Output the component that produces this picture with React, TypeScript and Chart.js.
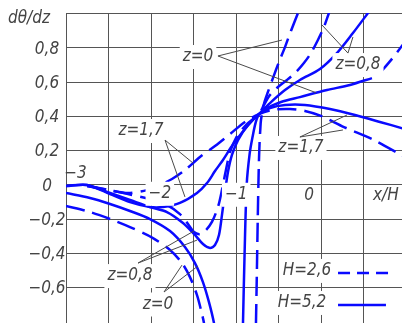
import React, { useEffect, useRef } from "react";
import { Chart, registerables } from "chart.js";

Chart.register(...registerables);

// ---- axes ----
const X_MIN = -3;
const X_MAX = 0.96;
const Y_MIN = -0.81;
const Y_MAX = 1.0;
const xGrid = [-3, -2.5, -2, -1.5, -1, -0.5, 0, 0.5];
const yGrid = [1.0, 0.8, 0.6, 0.4, 0.2, 0, -0.2, -0.4, -0.6];
const yTickValues = [0.8, 0.6, 0.4, 0.2, 0, -0.2, -0.4, -0.6];
const yTickLabels = ["0,8", "0,6", "0,4", "0,2", "0", "−0,2", "−0,4", "−0,6"];
const xTickValues = [-3, -2, -1, 0];
const xTickLabels = ["−3", "−2", "−1", "0"];

// ---- series: H=2,6 (dashed) ----
const h26z0Left: [number, number][] = [
  [-3.0, -0.127], [-2.717, -0.162], [-2.481, -0.203], [-2.246, -0.25], [-1.975, -0.314],
  [-1.774, -0.384], [-1.633, -0.46], [-1.539, -0.542], [-1.456, -0.647], [-1.409, -0.734],
  [-1.374, -0.81], [-1.35, -0.9],
];
const h26z0Right: [number, number][] = [
  [-0.761, -0.81], [-0.75, -0.5], [-0.74, -0.2], [-0.728, 0.1], [-0.718, 0.25], [-0.71, 0.32],
  [-0.702, 0.375], [-0.667, 0.469], [-0.62, 0.539], [-0.561, 0.62], [-0.49, 0.714],
  [-0.419, 0.801], [-0.349, 0.895], [-0.266, 1.0], [-0.23, 1.05],
];
const h26Extra: [number, number][] = [[0.7, 0.65], [0.83, 0.725], [0.97, 0.815]];
const h26z08: [number, number][] = [
  [-2.75, -0.01], [-2.48, -0.035], [-2.269, -0.057], [-2.01, -0.086], [-1.833, -0.115],
  [-1.657, -0.174], [-1.562, -0.232], [-1.492, -0.279], [-1.421, -0.291], [-1.35, -0.267],
  [-1.28, -0.22], [-1.209, -0.133], [-1.162, -0.034], [-1.115, 0.083], [-1.067, 0.188],
  [-0.997, 0.27], [-0.879, 0.346], [-0.726, 0.41], [-0.667, 0.463], [-0.596, 0.521],
  [-0.502, 0.568], [-0.396, 0.609], [-0.29, 0.655], [-0.196, 0.708], [-0.113, 0.766],
  [-0.031, 0.842], [0.04, 0.918], [0.099, 1.0], [0.135, 1.047],
];
const h26z17: [number, number][] = [
  [-2.75, -0.01], [-2.48, -0.035], [-2.269, -0.051], [-2.045, -0.034], [-1.892, -0.004],
  [-1.751, 0.031], [-1.598, 0.083], [-1.421, 0.159], [-1.244, 0.223], [-1.067, 0.293],
  [-0.891, 0.364], [-0.726, 0.41], [-0.572, 0.434], [-0.36, 0.439], [-0.184, 0.428],
  [0.005, 0.399], [0.276, 0.334], [0.629, 0.258], [0.97, 0.165],
];

// ---- series: H=5,2 (solid) ----
const h52z0Left: [number, number][] = [
  [-3.0, -0.051], [-2.717, -0.08], [-2.481, -0.115], [-2.246, -0.156], [-2.01, -0.203],
  [-1.774, -0.273], [-1.598, -0.366], [-1.48, -0.46], [-1.386, -0.571], [-1.315, -0.688],
  [-1.256, -0.81], [-1.23, -0.9],
];
const h52z0Right: [number, number][] = [
  [-0.914, -0.81], [-0.895, -0.4], [-0.87, 0.0], [-0.835, 0.18], [-0.8, 0.28], [-0.765, 0.36],
  [-0.73, 0.405], [-0.68, 0.43], [-0.62, 0.448], [-0.466, 0.48], [-0.243, 0.509],
  [0.076, 0.55], [0.347, 0.58], [0.606, 0.62],
];
const h52z08: [number, number][] = [
  [-3.0, -0.01], [-2.753, -0.004], [-2.481, -0.051], [-2.246, -0.092], [-2.01, -0.133],
  [-1.81, -0.162], [-1.621, -0.226], [-1.48, -0.296], [-1.386, -0.349], [-1.303, -0.372],
  [-1.244, -0.355], [-1.197, -0.296], [-1.162, -0.18], [-1.126, -0.045], [-1.091, 0.072],
  [-1.044, 0.171], [-0.973, 0.258], [-0.855, 0.346], [-0.726, 0.41], [-0.596, 0.474],
  [-0.419, 0.55], [-0.243, 0.609], [-0.007, 0.673], [0.193, 0.766], [0.382, 0.883],
  [0.559, 1.0], [0.629, 1.047],
];
const h52z17: [number, number][] = [
  [-3.0, -0.01], [-2.753, -0.004], [-2.481, -0.057], [-2.246, -0.104], [-2.01, -0.133],
  [-1.857, -0.133], [-1.657, -0.109], [-1.456, -0.051], [-1.338, 0.007], [-1.244, 0.077],
  [-1.15, 0.142], [-1.044, 0.223], [-0.891, 0.323], [-0.726, 0.41], [-0.596, 0.445],
  [-0.419, 0.463], [-0.184, 0.463], [0.111, 0.439], [0.406, 0.404], [0.7, 0.364],
  [0.97, 0.326],
];

// ---- annotations (value space) ----
const annotations = [
  { text: "z=0", at: [-1.444, 0.743], from: [-1.209, 0.749], to: [[-0.455, 0.842], [-0.054, 0.535]] },
  { text: "z=0,8", at: [0.441, 0.696], from: [0.323, 0.766], to: [[0.017, 0.93], [0.382, 0.86]] },
  { text: "z=1,7", at: [-2.116, 0.311], from: [-1.833, 0.258], to: [[-1.503, 0.124], [-1.598, -0.074]] },
  { text: "z=1,7", at: [-0.231, 0.212], from: [-0.243, 0.276], to: [[0.311, 0.404], [0.264, 0.317]] },
  { text: "z=0,8", at: [-2.246, -0.536], from: [-2.151, -0.46], to: [[-1.492, -0.273], [-1.456, -0.326]] },
  { text: "z=0", at: [-1.916, -0.702], from: [-1.845, -0.629], to: [[-1.633, -0.472], [-1.444, -0.477]] },
];
const legendItems = [
  { text: "H=2,6", at: [-0.16, -0.506], line: [0.206, 0.807, -0.518], dashed: true },
  { text: "H=5,2", at: [-0.219, -0.693], line: [0.206, 0.771, -0.705], dashed: false },
];

const BLUE = "#0a0aff";
const GRID = "#555555";
const TEXT = "#444444";
const FONT = 'italic 17px "DejaVu Sans Condensed", "DejaVu Sans", sans-serif';
const CURVE_DASH = [19, 8];

const toPts = (a: [number, number][]) => a.map(([x, y]) => ({ x, y }));

function mk(data: [number, number][], dashed: boolean) {
  return {
    data: toPts(data),
    borderColor: BLUE,
    borderWidth: 2.5,
    borderDash: dashed ? CURVE_DASH : [],
    pointRadius: 0,
    tension: 0.3,
    fill: false,
  };
}

const decor = {
  id: "decor",
  beforeDatasetsDraw(chart: any) {
    const { ctx, chartArea: a, scales } = chart;
    const sx = scales.x, sy = scales.y;
    ctx.save();
    ctx.fillStyle = "#fff";
    ctx.fillRect(0, 0, chart.width, chart.height);
    ctx.strokeStyle = GRID;
    ctx.lineWidth = 1;
    ctx.beginPath();
    for (const v of xGrid) {
      const px = Math.round(sx.getPixelForValue(v)) + 0.5;
      ctx.moveTo(px, a.top);
      ctx.lineTo(px, a.bottom);
    }
    for (const v of yGrid) {
      const py = Math.round(sy.getPixelForValue(v)) + 0.5;
      ctx.moveTo(a.left, py);
      ctx.lineTo(a.right, py);
    }
    ctx.stroke();
    ctx.restore();
  },
  afterDatasetsDraw(chart: any) {
    const { ctx, scales } = chart;
    const sx = scales.x, sy = scales.y;
    const X = (v: number) => sx.getPixelForValue(v);
    const Y = (v: number) => sy.getPixelForValue(v);
    ctx.save();
    ctx.font = FONT;
    ctx.textBaseline = "middle";
    ctx.textAlign = "center";

    const boxText = (t: string, cx: number, cy: number, bg: boolean) => {
      const w = ctx.measureText(t).width;
      if (bg) {
        ctx.fillStyle = "#fff";
        ctx.fillRect(cx - w / 2 - 3, cy - 12, w + 6, 24);
      }
      ctx.fillStyle = TEXT;
      ctx.fillText(t, cx, cy);
    };

    // y tick labels
    yTickValues.forEach((v, i) => boxText(yTickLabels[i], 47, Y(v) + 2, false));
    // title
    ctx.textAlign = "left";
    ctx.fillStyle = TEXT;
    ctx.fillText("dθ/dz", 8, 19);
    ctx.textAlign = "center";

    // x tick labels placed beside the zero line
    const offs = [[9.5, -10.5, false], [9, 9.5, true], [0.5, 10.5, true], [-11.5, 11, false]] as const;
    xTickValues.forEach((v, i) => {
      const o = offs[i];
      boxText(xTickLabels[i], X(v) + o[0], Y(0) + o[1], o[2]);
    });
    ctx.textAlign = "left";
    ctx.fillStyle = TEXT;
    ctx.fillText("x/H", 373, Y(0) + 11);
    ctx.textAlign = "center";

    // annotations
    for (const an of annotations) {
      boxText(an.text, X(an.at[0]), Y(an.at[1]), true);
    }
    ctx.strokeStyle = "#4a4a4a";
    ctx.lineWidth = 1;
    ctx.beginPath();
    for (const an of annotations) {
      for (const t of an.to) {
        ctx.moveTo(X(an.from[0]), Y(an.from[1]));
        ctx.lineTo(X(t[0]), Y(t[1]));
      }
    }
    ctx.stroke();

    // legend
    for (const li of legendItems) {
      boxText(li.text, X(li.at[0]), Y(li.at[1]), true);
      ctx.strokeStyle = BLUE;
      ctx.lineWidth = 2.5;
      ctx.setLineDash(li.dashed ? [12, 7] : []);
      ctx.beginPath();
      ctx.moveTo(X(li.line[0]), Y(li.line[2]));
      ctx.lineTo(X(li.line[1]), Y(li.line[2]));
      ctx.stroke();
      ctx.setLineDash([]);
    }
    ctx.restore();
  },
};

export default function App() {
  const ref = useRef<HTMLCanvasElement>(null);
  useEffect(() => {
    const canvas = ref.current;
    if (!canvas) return;
    const chart = new Chart(canvas, {
      type: "line",
      data: {
        datasets: [
          mk(h26z0Left, true),
          mk(h26z0Right, true),
          mk(h26Extra, true),
          mk(h26z08, true),
          mk(h26z17, true),
          mk(h52z0Left, false),
          mk(h52z0Right, false),
          mk(h52z08, false),
          mk(h52z17, false),
        ] as any,
      },
      options: {
        responsive: false,
        animation: false,
        devicePixelRatio: 1,
        layout: { padding: { left: 66, top: 13, right: 0, bottom: 0 } },
        scales: {
          x: { type: "linear", min: X_MIN, max: X_MAX, display: false },
          y: { type: "linear", min: Y_MIN, max: Y_MAX, display: false },
        },
        plugins: { legend: { display: false }, tooltip: { enabled: false } },
        events: [],
      } as any,
      plugins: [decor],
    });
    return () => chart.destroy();
  }, []);
  return (
    <canvas
      ref={ref}
      width={402}
      height={323}
      style={{ position: "absolute", left: 0, top: 0, width: 402, height: 323 }}
    />
  );
}
